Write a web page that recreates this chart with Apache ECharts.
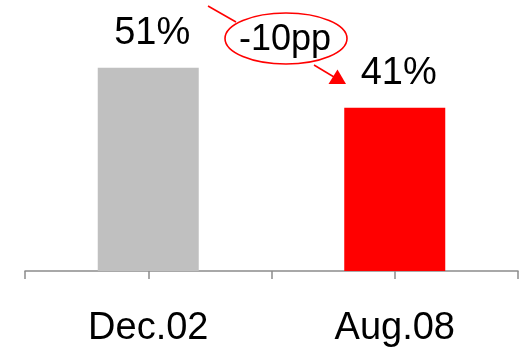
<!DOCTYPE html>
<html>
<head>
<meta charset="utf-8">
<script src="https://cdn.jsdelivr.net/npm/echarts@6/dist/echarts.min.js"></script>
<style>
html,body{margin:0;padding:0;background:#fff;}
#main{width:531px;height:351px;}
</style>
</head>
<body>
<div id="main"></div>
<script>
var categories = ['Dec.02', 'Aug.08'];
var values = [51, 41];
var barColors = ['#c0c0c0', '#ff0000'];
var changeLabel = '-10pp';

var chart = echarts.init(document.getElementById('main'));
var FONT = '"Liberation Sans", Arial, sans-serif';
chart.setOption({
  animation: false,
  grid: { left: 25, right: 13, top: 32, bottom: 80 },
  xAxis: [
    {
      type: 'category',
      data: categories,
      axisLine: { lineStyle: { color: '#8c8c8c', width: 1.5 } },
      axisTick: { show: true, alignWithLabel: false, length: 8, lineStyle: { color: '#8c8c8c', width: 1.5 } },
      axisLabel: { color: '#000', fontSize: 38, fontFamily: FONT, margin: 39 }
    },
    {
      type: 'category',
      data: categories,
      position: 'bottom',
      axisLine: { show: false },
      axisTick: { show: true, alignWithLabel: true, length: 8, lineStyle: { color: '#8c8c8c', width: 1.5 } },
      axisLabel: { show: false }
    }
  ],
  yAxis: { type: 'value', min: 0, max: 60, show: false },
  series: [{
    type: 'bar',
    xAxisIndex: 0,
    barWidth: 101,
    data: values.map(function (v, i) { return { value: v, itemStyle: { color: barColors[i] } }; }),
    label: {
      show: true,
      position: 'top',
      distance: 15,
      offset: [4, 0],
      color: '#000',
      fontSize: 38,
      fontFamily: FONT,
      formatter: function (p) { return p.value + '%'; }
    }
  }],
  graphic: [
    { type: 'line', shape: { x1: 208, y1: 6, x2: 236, y2: 22 }, style: { stroke: '#ff0000', lineWidth: 1.5 } },
    { type: 'ellipse', shape: { cx: 286, cy: 38.5, rx: 61, ry: 25.5 }, style: { fill: 'none', stroke: '#ff0000', lineWidth: 1.6 } },
    { type: 'text', x: 285, y: 40, style: { text: changeLabel, fill: '#000', font: '36px ' + FONT, align: 'center', verticalAlign: 'middle' } },
    { type: 'line', shape: { x1: 314, y1: 65, x2: 334, y2: 77 }, style: { stroke: '#ff0000', lineWidth: 1.5 } },
    { type: 'polygon', shape: { points: [[337.5, 69.5], [346, 84], [328.5, 84]] }, style: { fill: '#ff0000' } }
  ]
});
</script>
</body>
</html>
